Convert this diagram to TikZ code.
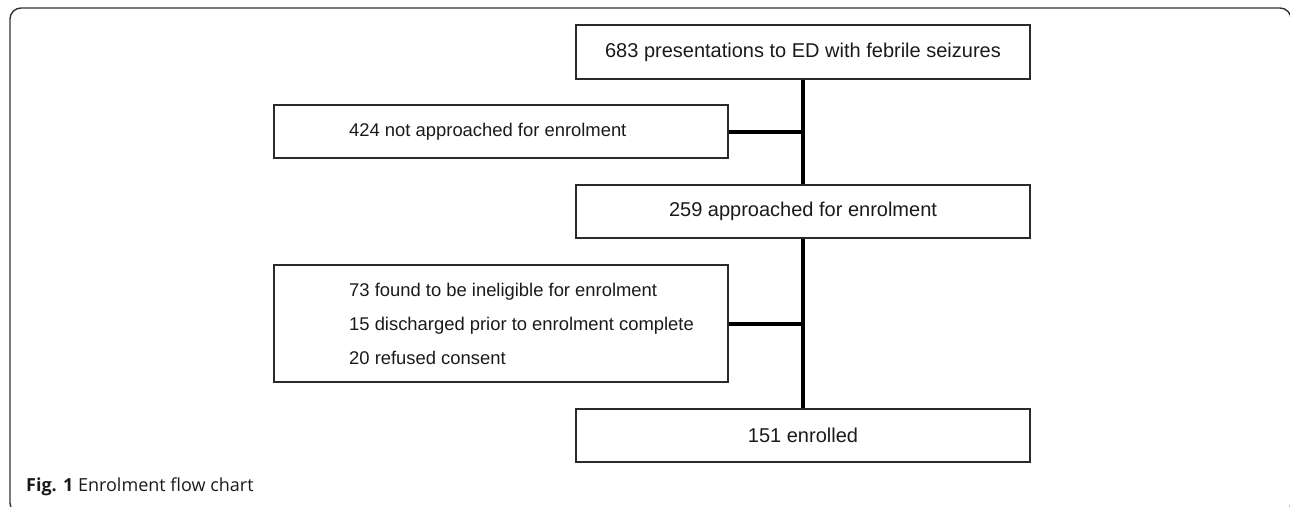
\documentclass[tikz,border=0pt]{standalone}
\usepackage{fontspec}
\setmainfont{Liberation Sans}
\newfontfamily\capfont{Open Sans}
\definecolor{boxline}{HTML}{2A2A2A}
\definecolor{txt}{HTML}{1A1A1A}
\definecolor{frame}{HTML}{333333}
\begin{document}
\begin{tikzpicture}[x=1pt,y=-1pt,
  mainbox/.style={draw=boxline, line width=1.3pt, minimum width=454pt, minimum height=53pt, inner sep=0pt, text=txt, font=\fontsize{20}{24}\selectfont},
  sidebox/.style={draw=boxline, line width=1.3pt, minimum width=454pt, inner sep=0pt},
  sidetext/.style={anchor=west, inner sep=0pt, text=txt, align=left, font=\fontsize{18.4}{34}\selectfont},
  link/.style={draw=black, line width=4pt}]
\useasboundingbox (0,0) rectangle (1290,506);
\begin{scope}
\clip (0,0) rectangle (1290,506);
\draw[frame, line width=1.4pt, rounded corners=11pt] (10,8) rectangle (1291,514);
\end{scope}
\node[mainbox, minimum height=54pt] (b1) at (803,52) {683 presentations to ED with febrile seizures};
\node[sidebox, minimum height=53pt] (b2) at (501,131.5) {};
\node[sidetext] (t2) at (349,131.5) {424 not approached for enrolment};
\node[mainbox] (b3) at (803,211.5) {259 approached for enrolment};
\node[sidebox, minimum height=117pt] (b4) at (501,323.5) {};
\node[sidetext] (t4) at (349,323.5) {73 found to be ineligible for enrolment\\15 discharged prior to enrolment complete\\20 refused consent};
\node[mainbox] (b5) at (803,435.5) {151 enrolled};
\draw[link] (b1.south) -- (b3.north);
\draw[link] (b3.south) -- (b5.north);
\draw[link] (b2.east) -- (b2.east -| b1.south);
\draw[link] (b4.east) -- (b4.east -| b3.south);
\node[anchor=west, inner sep=0pt, text=txt, font=\capfont\fontsize{18}{22}\selectfont] (cap) at (26,487) {\textbf{Fig. 1} Enrolment flow chart};
\end{tikzpicture}
\end{document}
